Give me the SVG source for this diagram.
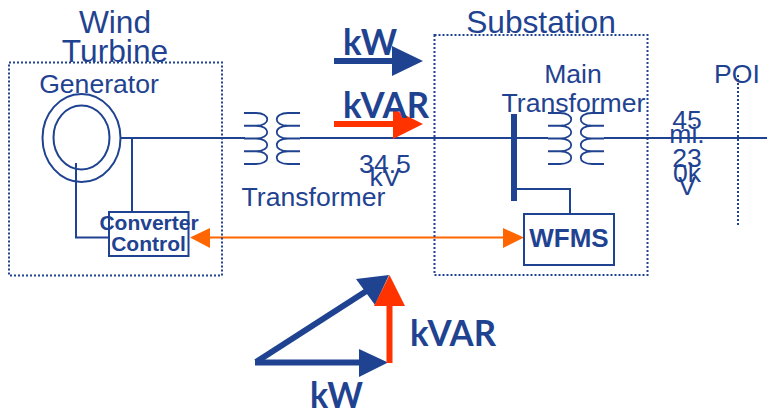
<svg xmlns="http://www.w3.org/2000/svg" width="767" height="412" viewBox="0 0 767 412">
<style>
.l{fill:none;stroke:#1f4391;stroke-width:2}
.d{fill:none;stroke:#1f4391;stroke-width:2;stroke-dasharray:2 2}
.c{fill:none;stroke:#1f4391;stroke-width:1.8}
.t{font-family:"Liberation Sans",Arial,sans-serif;fill:#1f4391;text-anchor:middle}
.b{font-weight:bold}
.k{font-family:Lato,"Open Sans",sans-serif;font-weight:bold;fill:#1f4391;font-size:37px;text-anchor:start}
.s26{font-size:26.6px}
.s31{font-size:31.700px}
</style>
<defs>
<g id="coil">
<path class="c" d="M0 0H12C27 0 27 12.750 12 12.750H0M12 12.750C27 12.750 27 25.500 12 25.500H0M12 25.500C27 25.500 27 38.250 12 38.250H0M12 38.250C27 38.250 27 51 12 51H0"/>
<path class="c" d="M56 0H44C29 0 29 12.750 44 12.750H56M44 12.750C29 12.750 29 25.500 44 25.500H56M44 25.500C29 25.500 29 38.250 44 38.250H56M44 38.250C29 38.250 29 51 44 51H56"/>
</g>
</defs>
<g id="connectors">
<path class="l" d="M121 138H245M300 138H548M604 138H767"/>
<path class="l" d="M132 138V212M76 163V237.5H109M517 189H570V214"/>
<path class="d" d="M738 75V225"/>
<path d="M210 237.5H503" fill="none" stroke="#ff6600" stroke-width="2"/>
<path d="M190 237.5L210 228V248ZM524 237.5L503 228V248Z" fill="#ff6600"/>
</g>
<g id="wind-turbine">
<rect class="d" x="9" y="62.5" width="213" height="213"/>
<text class="t s31" x="115" y="33">Wind</text>
<text class="t s31" x="115" y="62">Turbine</text>
</g>
<g id="generator">
<ellipse class="l" cx="81.5" cy="138" rx="39" ry="44"/>
<ellipse class="l" cx="81.5" cy="137.5" rx="28" ry="32"/>
<text class="t s26" x="99" y="93">Generator</text>
</g>
<g id="converter-control">
<rect class="l" x="109" y="212" width="79.500" height="44" fill="#fff"/>
<text class="t b" font-size="21" x="149" y="230">Converter</text>
<text class="t b" font-size="21" x="148.500" y="251">Control</text>
</g>
<g id="transformer">
<use href="#coil" x="244" y="113"/>
<text class="t s26" x="313.500" y="206">Transformer</text>
<text class="t s26" x="385" y="173">34.5</text>
<text class="t s26" x="385" y="186">kV</text>
</g>
<g id="substation">
<rect class="d" x="434.500" y="35" width="213" height="240"/>
<text class="t s31" x="541" y="33">Substation</text>
</g>
<g id="main-transformer">
<use href="#coil" x="548" y="113"/>
<rect x="511" y="114" width="6" height="87" fill="#1f4391"/>
<text class="t s26" x="573" y="83">Main</text>
<text class="t s26" x="573.500" y="112">Transformer</text>
</g>
<g id="wfms">
<rect class="l" x="524" y="214" width="90" height="51" fill="#fff"/>
<text class="t b" font-size="26" x="569" y="247">WFMS</text>
</g>
<g id="line-label">
<text class="t s26" x="687" y="129">45</text>
<text class="t s26" x="687" y="143">mi.</text>
<text class="t s26" x="687" y="167">23</text>
<text class="t s26" x="687" y="182">0k</text>
<text class="t s26" x="687" y="195">V</text>
</g>
<g id="poi">
<text class="t s26" x="737" y="83">POI</text>
</g>
<g id="legend">
<path d="M334 61H395" stroke="#1f4391" stroke-width="6" fill="none"/>
<path d="M423 61L392 46V76Z" fill="#1f4391"/>
<text class="k" x="343" y="55" textLength="54" lengthAdjust="spacingAndGlyphs">kW</text>
<path d="M334 124H395" stroke="#ff3300" stroke-width="6" fill="none"/>
<path d="M423 124L393 109V139Z" fill="#ff3300"/>
<text class="k" x="343" y="118" textLength="86" lengthAdjust="spacingAndGlyphs">kVAR</text>
</g>
<g id="triangle">
<path d="M255 362.500H362" stroke="#1f4391" stroke-width="6" fill="none"/>
<path d="M388 362.500L359 349V377Z" fill="#1f4391"/>
<path d="M256 362L368 290" stroke="#1f4391" stroke-width="6" fill="none"/>
<path d="M389 275L356 279L375 305Z" fill="#1f4391"/>
<path d="M389.500 363V303" stroke="#ff3300" stroke-width="6" fill="none"/>
<path d="M389.500 275L405 306H374Z" fill="#ff3300"/>
<text class="k" x="410" y="346" textLength="86" lengthAdjust="spacingAndGlyphs">kVAR</text>
<text class="k" x="310" y="408" textLength="53" lengthAdjust="spacingAndGlyphs">kW</text>
</g>
</svg>
